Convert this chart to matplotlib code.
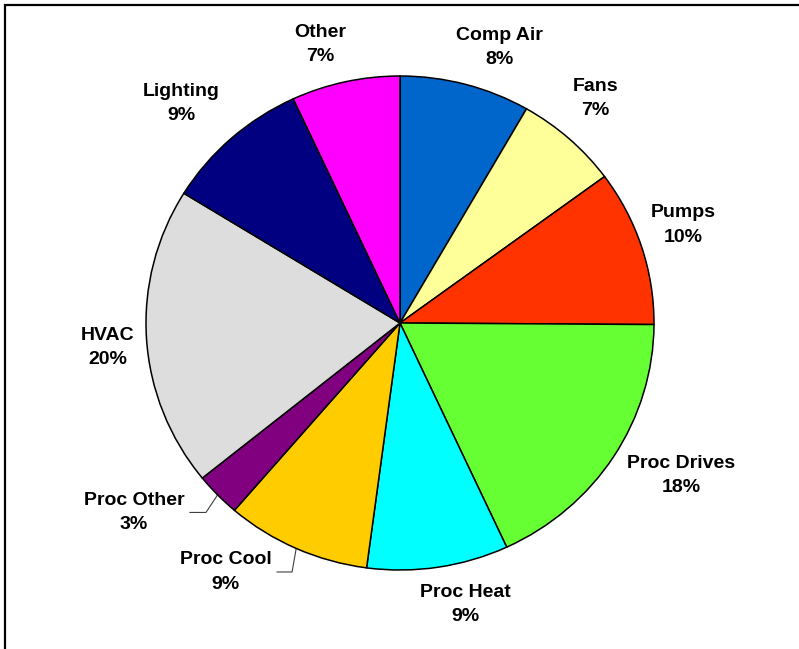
import numpy as np
import matplotlib.pyplot as plt
from matplotlib.patches import Rectangle

# end-use shares, clockwise from 12 o'clock
categories = ['Comp Air', 'Fans', 'Pumps', 'Proc Drives', 'Proc Heat',
              'Proc Cool', 'Proc Other', 'HVAC', 'Lighting', 'Other']
shares = [8.3, 6.6, 10.2, 18.0, 9.0, 9.2, 2.9, 19.6, 9.3, 6.9]
colors = ['#0066CC', '#FFFF99', '#FF3300', '#66FF33', '#00FFFF',
          '#FFCC00', '#800080', '#DDDDDD', '#000080', '#FF00FF']

plt.rcParams['font.family'] = ['Liberation Sans', 'DejaVu Sans']

fig = plt.figure(figsize=(7.99, 6.49), dpi=100)
ax = fig.add_axes([0, 0, 1, 1])

wedges, _ = ax.pie(shares, colors=colors, startangle=90, counterclock=False,
                   wedgeprops=dict(edgecolor='black', linewidth=1.1))

# where Excel left the data labels (axes data units, pie radius = 1)
label_xy = {'Comp Air': (0.390, 1.117), 'Fans': (0.768, 0.909),
            'Pumps': (1.114, 0.397), 'Proc Drives': (1.106, -0.619),
            'Proc Heat': (0.256, -1.138), 'Proc Cool': (-0.687, -1.008),
            'Proc Other': (-1.047, -0.767), 'HVAC': (-1.152, -0.099),
            'Lighting': (-0.862, 0.887), 'Other': (-0.315, 1.126)}
# the two dragged labels get leader lines: elbow x, stub end x
leaders = {'Proc Other': (-0.764, -0.827), 'Proc Cool': (-0.425, -0.484)}

for w, name, v in zip(wedges, categories, shares):
    x, y = label_xy[name]
    ax.text(x, y, f'{name}\n{round(v):.0f}%', ha='center', va='center',
            fontsize=14, fontweight='bold', linespacing=1.55)
    if name in leaders:
        mid = np.deg2rad((w.theta1 + w.theta2) / 2)
        kx, sx = leaders[name]
        ax.plot([np.cos(mid), kx, sx], [np.sin(mid), y, y],
                color='#404040', lw=0.8, zorder=0)

ax.set_xlim(-400 / 254, 399 / 254)
ax.set_ylim(-326 / 247, 323 / 247)
ax.set_aspect('auto')
ax.axis('off')

fig.patches.append(Rectangle((5 / 799, -0.1), 1.2, (644 / 649) + 0.1,
                             transform=fig.transFigure, fill=False,
                             edgecolor='black', linewidth=1.6))

fig.savefig('out.png', dpi=100, facecolor='white')
